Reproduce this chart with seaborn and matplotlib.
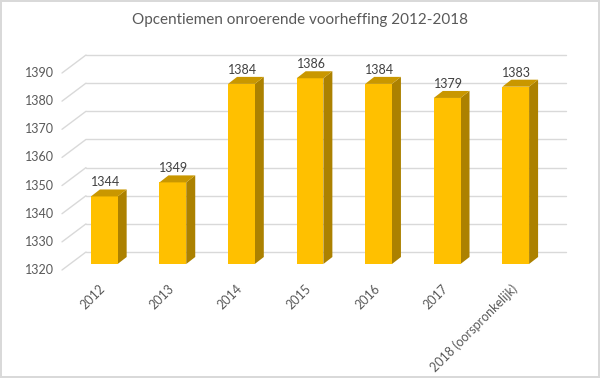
import numpy as np
import pandas as pd
import seaborn as sns
import matplotlib.pyplot as plt
from matplotlib.patches import Polygon

# data
years = ["2012", "2013", "2014", "2015", "2016", "2017", "2018 (oorspronkelijk)"]
opcentiemen = [1344, 1349, 1384, 1386, 1384, 1379, 1383]
yticks = [1320, 1330, 1340, 1350, 1360, 1370, 1380, 1390]

sns.set_theme(style="white")
plt.rcParams['font.family'] = ['Lato', 'DejaVu Sans']

fig = plt.figure(figsize=(6, 3.78), dpi=100)
fig.patch.set_edgecolor('#D9D9D9')
fig.patch.set_linewidth(1.5)
ax = fig.add_axes([70 / 600, 1 - 264 / 378, 480 / 600, 197 / 378])

df = pd.DataFrame({"jaar": years, "waarde": opcentiemen})
sns.barplot(data=df, x="jaar", y="waarde", color='#FFC000', width=0.39,
            saturation=1, linewidth=0, ax=ax, zorder=3)
ax.set_ylim(1320, 1390)
ax.set_xlim(-0.5, len(years) - 0.5)
ax.set_axis_off()

# pixel -> data unit helpers for the fake 3D depth
px_x = (len(years)) / 480.0
px_y = 70 / 197.0
def off(dx, dy):
    return dx * px_x, dy * px_y

grid = '#D9D9D9'
fx, fy = off(-8, -6)    # front edge of the floor/wall
bx, by = off(16, 12)    # back wall
x0, x1 = -0.5, len(years) - 0.5
for v in yticks:
    ax.plot([x0 + fx, x0 + bx], [v + fy, v + by], color=grid, lw=1, clip_on=False, zorder=1)
    ax.plot([x0 + bx, x1 + bx], [v + by, v + by], color=grid, lw=1, clip_on=False, zorder=1)
    ax.text(x0 + fx - 8 * px_x, v + fy, str(v), ha='right', va='center',
            fontsize=9, color='#595959')

# side and top faces of the bars
sx, sy = off(9, 7)
for p in ax.patches:
    left = p.get_x()
    w = p.get_width()
    top = p.get_y() + p.get_height()
    side = Polygon([(left + w, 1320), (left + w, top), (left + w + sx, top + sy),
                    (left + w + sx, 1320 + sy)], closed=True,
                   facecolor='#AC8100', edgecolor='none', clip_on=False, zorder=2)
    lid = Polygon([(left, top), (left + w, top), (left + w + sx, top + sy),
                   (left + sx, top + sy)], closed=True,
                  facecolor='#C99700', edgecolor='none', clip_on=False, zorder=4)
    ax.add_patch(side)
    ax.add_patch(lid)
    ax.text(left + w / 2 + 1 * px_x, top + 8 * px_y, str(int(round(p.get_height()))),
            ha='center', va='bottom', fontsize=9, color='#404040')

# rotated category labels
for i, lab in enumerate(years):
    ax.text(i - 5 * px_x, 1320 - 18 * px_y, lab, rotation=45, ha='right', va='top',
            rotation_mode='anchor', fontsize=9, color='#595959')

fig.text(0.5, 1 - 20 / 378, "Opcentiemen onroerende voorheffing 2012-2018",
         ha='center', va='center', fontsize=11, color='#595959')

fig.savefig("out.png", dpi=100)
